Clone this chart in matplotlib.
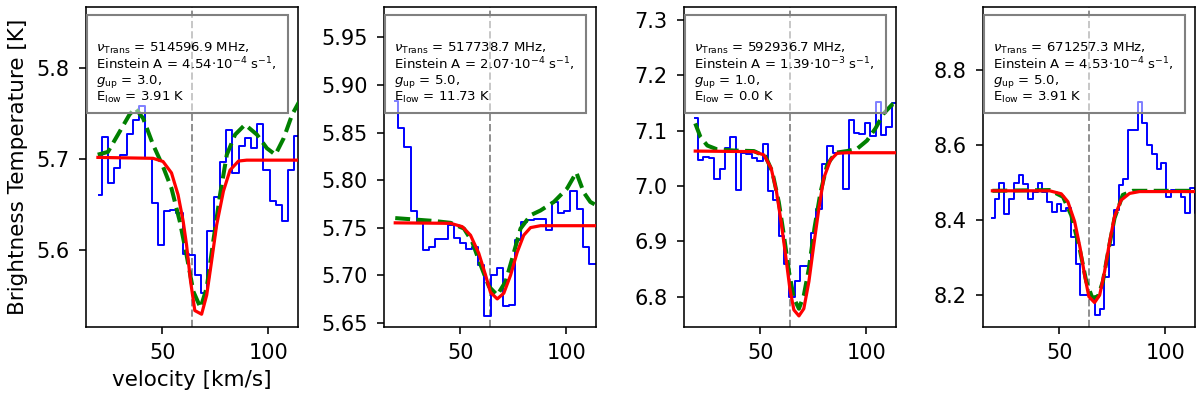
import numpy as np
import matplotlib.pyplot as plt
from matplotlib.patches import Rectangle

# observed spectra (channel centre velocity [km/s], brightness temperature [K])
vel_1 = [20.0, 22.9, 25.9, 28.8, 31.7, 34.7, 37.6, 40.5, 43.4, 46.4, 49.3, 52.2,
         55.2, 58.1, 61.0, 64.0, 66.9, 69.8, 72.7, 75.7, 78.6, 81.5, 84.5, 87.4,
         90.3, 93.2, 96.2, 99.1, 102.0, 105.0, 107.9, 110.8, 113.8, 116.7]
tb_1 = [5.661, 5.724, 5.674, 5.690, 5.705, 5.728, 5.743, 5.758, 5.701, 5.652, 5.606, 5.643,
        5.644, 5.641, 5.596, 5.595, 5.573, 5.553, 5.621, 5.659, 5.697, 5.732, 5.685, 5.714,
        5.723, 5.712, 5.739, 5.688, 5.654, 5.650, 5.632, 5.688, 5.725, 5.725]

vel_2 = [19.3, 22.2, 25.1, 28.0, 30.9, 33.8, 36.7, 39.6, 42.5, 45.4, 48.3, 51.2,
         54.1, 57.0, 59.9, 62.8, 65.7, 68.6, 71.5, 74.4, 77.3, 80.2, 83.1, 86.0,
         88.9, 91.8, 94.7, 97.6, 100.5, 103.4, 106.3, 109.2, 112.1, 115.0]
tb_2 = [5.883, 5.855, 5.835, 5.767, 5.756, 5.726, 5.730, 5.738, 5.738, 5.753, 5.739, 5.734,
        5.727, 5.730, 5.711, 5.657, 5.700, 5.707, 5.668, 5.669, 5.737, 5.756, 5.758, 5.759,
        5.759, 5.747, 5.777, 5.765, 5.767, 5.789, 5.770, 5.730, 5.712, 5.712]

vel_3 = [19.3, 21.8, 24.4, 26.9, 29.5, 32.0, 34.5, 37.1, 39.6, 42.2, 44.7, 47.2, 49.8,
         52.3, 54.9, 57.4, 59.9, 62.5, 65.0, 67.6, 70.1, 72.6, 75.2, 77.7, 80.3, 82.8,
         85.3, 87.9, 90.4, 93.0, 95.5, 98.0, 100.6, 103.1, 105.7, 108.2, 110.7, 113.3, 115.8]
tb_3 = [7.123, 7.047, 7.053, 7.050, 7.013, 7.031, 7.069, 7.088, 6.992, 7.060, 7.058, 7.050, 7.045,
        7.075, 6.990, 6.975, 6.910, 6.858, 6.800, 6.828, 6.855, 6.855, 6.915, 6.958, 7.040, 7.073,
        7.060, 7.060, 6.995, 7.119, 7.095, 7.093, 7.113, 7.090, 7.152, 7.092, 7.107, 7.150, 7.150]

vel_4 = [18.4, 20.6, 22.9, 25.1, 27.4, 29.6, 31.9, 34.1, 36.4, 38.6, 40.9, 43.1, 45.4, 47.6, 49.8,
         52.1, 54.3, 56.6, 58.8, 61.1, 63.3, 65.6, 67.8, 70.1, 72.3, 74.6, 76.8, 79.1, 81.3, 83.5,
         85.8, 88.0, 90.3, 92.5, 94.8, 97.0, 99.3, 101.5, 103.8, 106.0, 108.3, 110.5, 112.7, 115.0]
tb_4 = [8.405, 8.455, 8.498, 8.415, 8.455, 8.500, 8.520, 8.495, 8.455, 8.476, 8.498, 8.476, 8.449,
        8.422, 8.444, 8.424, 8.431, 8.356, 8.284, 8.200, 8.200, 8.190, 8.147, 8.164, 8.249, 8.333,
        8.427, 8.493, 8.510, 8.640, 8.640, 8.715, 8.658, 8.600, 8.575, 8.535, 8.552, 8.462, 8.480,
        8.476, 8.462, 8.418, 8.486, 8.418]

# single-line fit (red)
fit_v_1 = [19.6, 45.6, 50.3, 54.3, 57.4, 59.8, 61.4, 63.3, 65.3, 68.5, 70.9, 73.2, 75.6, 78.8, 81.9, 85.9, 89.8, 114.5]
fit_t_1 = [5.702, 5.701, 5.6975, 5.685, 5.661, 5.632, 5.606, 5.566, 5.534, 5.530, 5.551, 5.588, 5.628, 5.665, 5.688, 5.698, 5.699, 5.699]
fit_v_2 = [19.3, 45.4, 50.9, 54.8, 58.7, 61.9, 64.2, 67.4, 70.5, 73.7, 76.8, 79.9, 83.1, 87.8, 114.5]
fit_t_2 = [5.755, 5.7545, 5.751, 5.742, 5.723, 5.700, 5.682, 5.675, 5.681, 5.700, 5.724, 5.742, 5.750, 5.752, 5.752]
fit_v_3 = [19.3, 47.0, 51.7, 55.1, 57.6, 59.8, 61.9, 63.9, 65.8, 68.2, 70.5, 72.9, 75.2, 77.6, 79.9, 83.1, 86.2, 90.9, 114.5]
fit_t_3 = [7.063, 7.062, 7.056, 7.032, 6.990, 6.935, 6.875, 6.815, 6.776, 6.765, 6.778, 6.827, 6.893, 6.959, 7.014, 7.047, 7.059, 7.060, 7.060]
fit_v_4 = [18.4, 45.4, 50.9, 54.0, 57.2, 59.8, 61.9, 63.9, 66.6, 69.0, 71.3, 73.7, 76.0, 79.1, 83.1, 87.8, 114.5]
fit_t_4 = [8.478, 8.478, 8.470, 8.449, 8.396, 8.325, 8.253, 8.196, 8.180, 8.200, 8.262, 8.342, 8.409, 8.453, 8.471, 8.476, 8.476]

# full model (green dashed)
mod_v_1 = [19.5, 24.3, 29.8, 34.5, 37.2, 40.9, 45.6, 50.3, 54.3, 58.2, 61.4, 64.6, 68.0, 70.9, 74.0, 77.2,
           80.4, 84.3, 89.0, 94.6, 99.3, 103.3, 107.2, 111.2, 114.5]
mod_t_1 = [5.705, 5.708, 5.730, 5.749, 5.756, 5.745, 5.716, 5.692, 5.668, 5.632, 5.595, 5.555, 5.537, 5.559,
           5.610, 5.661, 5.705, 5.727, 5.738, 5.727, 5.712, 5.705, 5.723, 5.749, 5.763]
mod_v_2 = [19.3, 37.5, 45.4, 51.7, 55.6, 59.5, 63.5, 67.4, 71.3, 74.4, 78.4, 83.1, 87.8, 94.1, 100.3,
           104.7, 108.2, 111.3, 114.5]
mod_t_2 = [5.760, 5.757, 5.755, 5.749, 5.735, 5.711, 5.688, 5.679, 5.693, 5.717, 5.749, 5.763, 5.768, 5.777,
           5.791, 5.808, 5.787, 5.777, 5.773]
mod_v_3 = [19.3, 21.8, 25.0, 29.7, 37.5, 47.0, 52.5, 55.6, 58.7, 61.1, 63.5, 65.8, 68.2, 70.5, 72.9, 75.5,
           78.4, 81.5, 85.4, 90.9, 95.6, 100.3, 104.3, 108.2, 112.1, 114.5]
mod_t_3 = [7.113, 7.088, 7.073, 7.066, 7.064, 7.063, 7.053, 7.026, 6.971, 6.911, 6.845, 6.797, 6.778, 6.802,
           6.851, 6.923, 6.989, 7.038, 7.060, 7.063, 7.067, 7.082, 7.104, 7.131, 7.147, 7.149]
mod_v_4 = [18.4, 45.4, 51.7, 55.6, 59.5, 62.7, 65.5, 68.2, 70.5, 73.3, 76.0, 79.9, 84.6, 114.5]
mod_t_4 = [8.478, 8.480, 8.462, 8.413, 8.325, 8.236, 8.193, 8.196, 8.236, 8.325, 8.405, 8.467, 8.478, 8.478]

# line parameters shown in the boxes
nu_trans = [514596.9, 517738.7, 592936.7, 671257.3]
a_mant = [4.54, 2.07, 1.39, 4.53]
a_exp = [-4, -4, -3, -4]
g_up = [3.0, 5.0, 1.0, 5.0]
e_low = [3.91, 11.73, 0.0, 3.91]

v_sys = 64.0
x_range = (14, 114)
x_ticks = [50, 100]
y_lims = [(5.516, 5.867), (5.6455, 5.982), (6.745, 7.3235), (8.115, 8.968)]
y_ticks = [[5.6, 5.7, 5.8],
           [5.65, 5.70, 5.75, 5.80, 5.85, 5.90, 5.95],
           [6.8, 6.9, 7.0, 7.1, 7.2, 7.3],
           [8.2, 8.4, 8.6, 8.8]]

spectra = [(vel_1, tb_1), (vel_2, tb_2), (vel_3, tb_3), (vel_4, tb_4)]
fits = [(fit_v_1, fit_t_1), (fit_v_2, fit_t_2), (fit_v_3, fit_t_3), (fit_v_4, fit_t_4)]
models = [(mod_v_1, mod_t_1), (mod_v_2, mod_t_2), (mod_v_3, mod_t_3), (mod_v_4, mod_t_4)]

lefts = [0.0717, 0.32, 0.57, 0.8192]

fig = plt.figure(figsize=(12, 3.99), dpi=100)

for i in range(4):
    ax = fig.add_axes([lefts[i], 0.1805, 0.1767, 0.802])

    v, t = spectra[i]
    ax.plot(v, t, color='b', lw=1.4, drawstyle='steps-mid', zorder=2)
    ax.plot(models[i][0], models[i][1], color='g', lw=2.9, ls='--', zorder=3)
    ax.plot(fits[i][0], fits[i][1], color='r', lw=2.3, zorder=4)
    ax.axvline(v_sys, color='0.45', lw=1.4, ls='--', alpha=0.8, zorder=1)

    # parameter box
    ax.add_patch(Rectangle((0.006, 0.669), 0.947, 0.306, transform=ax.transAxes,
                           facecolor='white', alpha=0.5, edgecolor='none', zorder=5))
    ax.add_patch(Rectangle((0.006, 0.669), 0.947, 0.306, transform=ax.transAxes,
                           facecolor='none', edgecolor='0.5', lw=1.5, zorder=5))
    label = (r"$\nu_\mathrm{Trans}$ = %.1f MHz," % nu_trans[i] + "\n"
             + r"Einstein A = %.2f$\cdot10^{%d}$ s$^{-1}$," % (a_mant[i], a_exp[i]) + "\n"
             + r"$g_\mathrm{up}$ = %.1f," % g_up[i] + "\n"
             + r"E$_\mathrm{low}$ = %s K" % e_low[i])
    ax.text(0.047, 0.895, label, transform=ax.transAxes, fontsize=9.5,
            va='top', ha='left', linespacing=1.0, zorder=6)

    ax.set_xlim(*x_range)
    ax.set_ylim(*y_lims[i])
    ax.set_xticks(x_ticks)
    ax.set_yticks(y_ticks[i])
    ax.tick_params(labelsize=15, length=4.7, width=1.15, pad=7)
    for sp in ax.spines.values():
        sp.set_linewidth(1.15)

    if i == 0:
        ax.set_xlabel('velocity [km/s]', fontsize=15.5, labelpad=5)
        ax.set_ylabel('Brightness Temperature [K]', fontsize=15.5, labelpad=6)

fig.savefig('out.png', dpi=100)
